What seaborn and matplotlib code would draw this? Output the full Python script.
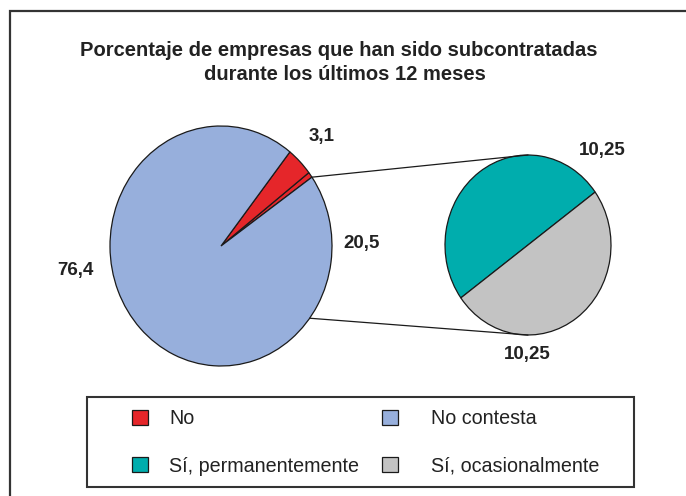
import numpy as np
import matplotlib
matplotlib.use("Agg")
import matplotlib.pyplot as plt
import seaborn as sns
from matplotlib.patches import Rectangle, Patch, ConnectionPatch

sns.set_theme(style="white")
plt.rcParams['font.family'] = ['Liberation Sans', 'DejaVu Sans']

# ---- data ----
titulo = ["Porcentaje de empresas que han sido subcontratadas",
          "durante los últimos 12 meses"]
# main pie (as drawn in the source: tiny "Sí" wedge, No, No contesta)
principal_categorias = ["Sí (total)", "No", "No contesta"]
principal_valores = [0.6, 3.1, 76.4]
principal_etiquetas = ["20,5", "3,1", "76,4"]
# secondary pie (breakdown of "Sí")
secundario_categorias = ["Sí, permanentemente", "Sí, ocasionalmente"]
secundario_valores = [10.25, 10.25]
secundario_etiquetas = ["10,25", "10,25"]
leyenda_col1 = ["No", "Sí, permanentemente"]
leyenda_col2 = ["No contesta", "Sí, ocasionalmente"]

ROJO, AZUL, TEAL, GRIS = "#E5262A", "#97AFDC", "#00ADAD", "#C3C3C3"
colores_principal = [ROJO, ROJO, AZUL]
colores_secundario = [TEAL, GRIS]

W, H = 686, 496
fig = plt.figure(figsize=(W / 100, H / 100), dpi=100)
fig.patch.set_facecolor("white")


def px(x, y):
    return x / W, 1 - y / H


def box(cx, cy, rx, ry):
    return [(cx - rx) / W, (H - cy - ry) / H, 2 * rx / W, 2 * ry / H]


# outer frame (only top/left visible)
fig.patches.append(Rectangle(px(10, 520), 720 / W, 509 / H, transform=fig.transFigure,
                             fill=False, edgecolor="#333333", linewidth=1.6))

wp = dict(edgecolor="#1a1a1a", linewidth=0.9, clip_on=False)

ax1 = fig.add_axes(box(221, 246, 111, 120))
ax1.pie(principal_valores, colors=colores_principal, startangle=35,
        counterclock=True, wedgeprops=wp)
ax1.set_xlim(-1, 1); ax1.set_ylim(-1, 1); ax1.set_aspect("auto"); ax1.axis("off")

ax2 = fig.add_axes(box(528, 245, 83, 90))
ax2.pie(secundario_valores, colors=colores_secundario, startangle=36,
        counterclock=True, wedgeprops=wp)
ax2.set_xlim(-1, 1); ax2.set_ylim(-1, 1); ax2.set_aspect("auto"); ax2.axis("off")

# connector lines
for ang, yb in [(35, 1), (-37, -1)]:
    a = np.deg2rad(ang)
    con = ConnectionPatch(xyA=(np.cos(a), np.sin(a)), coordsA=ax1.transData,
                          xyB=(0, yb), coordsB=ax2.transData,
                          color="#1a1a1a", linewidth=0.9)
    fig.add_artist(con)

lab = dict(fontsize=13.5, fontweight="bold", color="#222222", ha="center", va="center")
fig.text(*px(362, 243), principal_etiquetas[0], **lab)
fig.text(*px(322, 137), principal_etiquetas[1], **lab)
fig.text(*px(75, 270), principal_etiquetas[2], **lab)
fig.text(*px(602, 150), secundario_etiquetas[0], **lab)
fig.text(*px(527, 355), secundario_etiquetas[1], **lab)

tt = dict(fontsize=14.5, fontweight="bold", color="#222222", ha="center", va="center")
fig.text(*px(339, 50), titulo[0], **tt)
fig.text(*px(345, 75), titulo[1], **tt)

# legend frame
fig.patches.append(Rectangle(px(87, 487), 547 / W, 90 / H, transform=fig.transFigure,
                             fill=False, edgecolor="#333333", linewidth=1.5))
col_map = {"No": ROJO, "No contesta": AZUL,
           "Sí, permanentemente": TEAL, "Sí, ocasionalmente": GRIS}
common = dict(ncol=1, frameon=False, loc="upper left", bbox_transform=fig.transFigure,
              fontsize=14.2, handlelength=0.8, handleheight=0.8,
              labelspacing=1.45, borderpad=0, borderaxespad=0, labelcolor="#222222")
for labels, x0, pad in [(leyenda_col1, 132, 1.07), (leyenda_col2, 382, 1.68)]:
    hs = [Patch(facecolor=col_map[k], edgecolor="#1a1a1a", linewidth=0.9) for k in labels]
    fig.legend(hs, labels, bbox_to_anchor=px(x0, 409), handletextpad=pad, **common)

fig.savefig("out.png", dpi=100, facecolor="white")
